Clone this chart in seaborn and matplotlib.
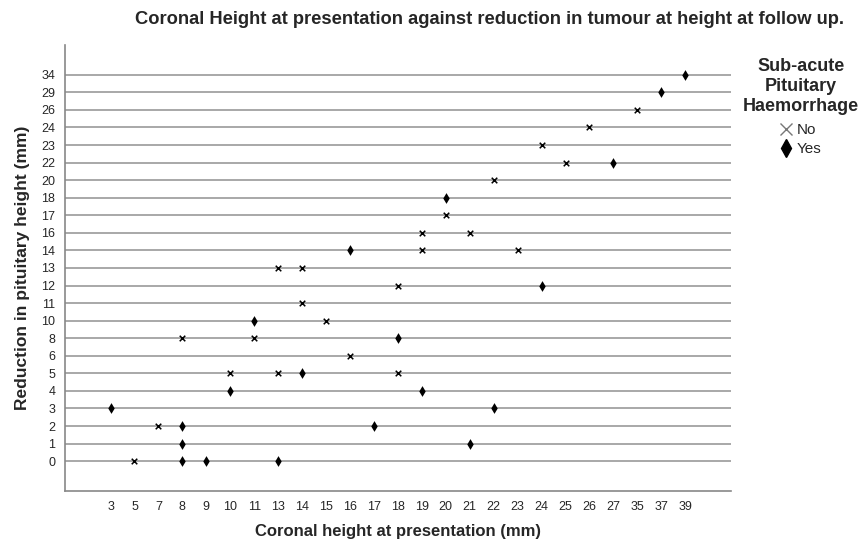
import pandas as pd
import matplotlib.pyplot as plt
import seaborn as sns
from matplotlib.lines import Line2D

# category orders along each axis
x_cats = [3, 5, 7, 8, 9, 10, 11, 13, 14, 15, 16, 17, 18, 19, 20, 21, 22, 23, 24, 25, 26, 27, 35, 37, 39]
y_cats = [0, 1, 2, 3, 4, 5, 6, 8, 10, 11, 12, 13, 14, 16, 17, 18, 20, 22, 23, 24, 26, 29, 34]

# points
coronal = [39, 37, 35, 26, 24, 25, 27, 22, 20, 20, 19, 21, 16, 19, 23, 13, 14, 18, 24, 14, 11, 15,
           8, 11, 18, 16, 10, 13, 14, 18, 10, 19, 3, 22, 7, 8, 17, 8, 21, 5, 8, 9, 13]
reduction = [34, 29, 26, 24, 23, 22, 22, 20, 18, 17, 16, 16, 14, 14, 14, 13, 13, 12, 12, 11, 10, 10,
             8, 8, 8, 6, 5, 5, 5, 5, 4, 4, 3, 3, 2, 2, 2, 1, 1, 0, 0, 0, 0]
haemorrhage = ["Yes", "Yes", "No", "No", "No", "No", "Yes", "No", "Yes", "No", "No", "No", "Yes", "No", "No", "No", "No", "No", "Yes", "No", "Yes", "No",
               "No", "No", "Yes", "No", "No", "No", "Yes", "No", "Yes", "Yes", "Yes", "Yes", "No", "Yes", "Yes", "Yes", "Yes", "No", "Yes", "Yes", "Yes"]

df = pd.DataFrame({"coronal": coronal, "reduction": reduction, "haem": haemorrhage})
df["xpos"] = pd.Categorical(df["coronal"], categories=x_cats).codes
df["ypos"] = pd.Categorical(df["reduction"], categories=y_cats).codes

sns.set_style("white")
plt.rcParams["font.family"] = ["Liberation Sans", "DejaVu Sans"]

fig = plt.figure(figsize=(8.59, 5.44), dpi=100)
ax = fig.add_axes([0.0757, 0.0974, 0.775, 0.82])

for yp in range(len(y_cats)):
    ax.axhline(yp, color="#a8a8a8", lw=1.4, zorder=0)

sns.scatterplot(data=df[df["haem"] == "No"], x="xpos", y="ypos", marker="x", s=16,
                color="black", linewidth=1.1, ax=ax, zorder=3, legend=False)
sns.scatterplot(data=df[df["haem"] == "Yes"], x="xpos", y="ypos", marker="d", s=30,
                color="black", linewidth=0, ax=ax, zorder=3, legend=False)

ax.set_xlim(-1.9, 25.9)
ax.set_ylim(-1.7, 23.7)
ax.set_xticks(range(len(x_cats)))
ax.set_xticklabels([str(v) for v in x_cats], fontsize=9)
ax.set_yticks(range(len(y_cats)))
ax.set_yticklabels([str(v) for v in y_cats], fontsize=9)
ax.tick_params(length=0, pad=7)
for s in ["top", "right"]:
    ax.spines[s].set_visible(False)
for s in ["left", "bottom"]:
    ax.spines[s].set_color("#888888")
    ax.spines[s].set_linewidth(1.2)

ax.set_xlabel("Coronal height at presentation (mm)", fontsize=12, fontweight="bold", labelpad=8)
ax.set_ylabel("Reduction in pituitary height (mm)", fontsize=12.5, fontweight="bold", labelpad=8)

fig.text(0.570, 0.965, "Coronal Height at presentation against reduction in tumour at height at follow up.",
         ha="center", va="center", fontsize=13.2, fontweight="bold")

handles = [Line2D([], [], marker="x", color="#777777", ls="", markersize=8, markeredgewidth=1),
           Line2D([], [], marker="d", color="black", ls="", markersize=9)]
leg = fig.legend(handles, ["No", "Yes"], title="Sub-acute\nPituitary\nHaemorrhage",
                 loc="upper center", bbox_to_anchor=(0.932, 0.918), frameon=False,
                 fontsize=11, handlelength=0.8, handletextpad=0.3, labelspacing=0.35,
                 title_fontproperties={"weight": "bold", "size": 13})
leg.get_title().set_multialignment("center")
leg._legend_box.sep = 6

fig.savefig("out.png", dpi=100)
